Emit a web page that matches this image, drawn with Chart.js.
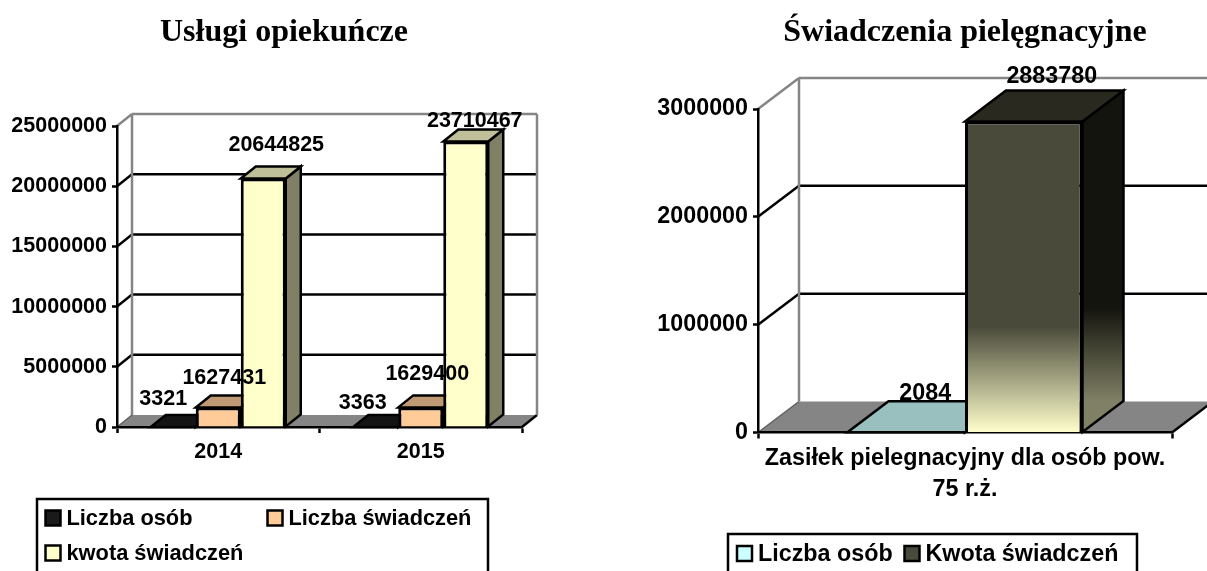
<!DOCTYPE html>
<html><head><meta charset="utf-8">
<style>html,body{margin:0;padding:0;background:#fff;width:1207px;height:571px;overflow:hidden}
canvas{position:absolute;top:0}</style>
<script src="https://cdn.jsdelivr.net/npm/chart.js@4"></script>
</head><body>
<canvas id="a" width="568" height="571" style="left:0"></canvas>
<canvas id="b" width="639" height="571" style="left:568px"></canvas>
<script>
const years = ['2014', '2015'];
const liczbaOsob = [3321, 3363];
const liczbaSwiadczen = [1627431, 1629400];
const kwotaSwiadczen = [20644825, 23710467];
const zasilekCategory = [['Zasiłek pielegnacyjny dla osób pow.', '75 r.ż.']];
const osobyZasilek = [2084];
const kwotaZasilek = [2883780];

const SANS = '"Liberation Sans", Arial, sans-serif';
const SERIF = '"Liberation Serif", "Times New Roman", serif';
const GREY = '#858585';

function poly(ctx, pts, fill, stroke, lw) {
  ctx.beginPath();
  pts.forEach((p, i) => i ? ctx.lineTo(p[0], p[1]) : ctx.moveTo(p[0], p[1]));
  ctx.closePath();
  if (fill) { ctx.fillStyle = fill; ctx.fill(); }
  if (stroke) { ctx.strokeStyle = stroke; ctx.lineWidth = lw || 2; ctx.lineJoin = 'miter'; ctx.stroke(); }
}
function seg(ctx, x1, y1, x2, y2, c, lw) {
  ctx.beginPath(); ctx.moveTo(x1, y1); ctx.lineTo(x2, y2);
  ctx.strokeStyle = c; ctx.lineWidth = lw; ctx.stroke();
}

const box3d = {
  id: 'box3d',
  afterLayout(chart, _, o) {
    if (o.titleShift) { chart.titleBlock.left += o.titleShift; chart.titleBlock.right += o.titleShift; }
  },
  beforeDraw(chart, _, o) {
    const c = chart.ctx, a = chart.chartArea, y = chart.scales.y, dx = o.dx, dy = o.dy;
    const r = a.right, l = a.left, b = y.getPixelForValue(0), t = y.getPixelForValue(y.max);
    c.save();
    poly(c, [[l, b], [r, b], [r + dx, b - dy], [l + dx, b - dy]], GREY);
    seg(c, l, b, l + dx, b - dy, '#606060', 1.5);
    seg(c, r, b, r + dx, b - dy, '#000', 2.5);
    y.ticks.forEach(tk => {
      if (tk.value === 0) return;
      const py = y.getPixelForValue(tk.value), top = tk.value === y.max;
      const col = top ? GREY : '#000';
      seg(c, l, py, l + dx, py - dy, col, 2.5);
      seg(c, l + dx, py - dy, r + dx, py - dy, col, 2.5);
    });
    seg(c, l + dx, t - dy, l + dx, b - dy, GREY, 2.5);
    seg(c, r + dx, t - dy, r + dx, b - dy, GREY, 2.5);
    c.restore();
  },
  beforeDatasetsDraw(chart, _, o) {
    const c = chart.ctx, dx = o.dx, dy = o.dy;
    c.save();
    chart.data.labels.forEach((_, i) => {
      chart.data.datasets.forEach((ds, d) => {
        const bar = chart.getDatasetMeta(d).data[i];
        const x0 = bar.x - bar.width / 2, x1 = bar.x + bar.width / 2;
        let side = ds.sideColor;
        if (ds.sideStops) {
          side = c.createLinearGradient(0, bar.y - dy, 0, bar.base - dy);
          ds.sideStops.forEach(s => side.addColorStop(s[0], s[1]));
        }
        poly(c, [[x1, bar.y], [x1 + dx, bar.y - dy], [x1 + dx, bar.base - dy], [x1, bar.base]], side, '#000', 2.5);
        poly(c, [[x0, bar.y], [x1, bar.y], [x1 + dx, bar.y - dy], [x0 + dx, bar.y - dy]], ds.topColor, '#000', 2.5);
      });
    });
    c.restore();
  },
  afterDatasetsDraw(chart, _, o) {
    const c = chart.ctx;
    c.save();
    c.font = 'bold ' + o.fontPx + 'px ' + SANS;
    c.fillStyle = '#000'; c.textAlign = 'center'; c.textBaseline = 'middle';
    chart.data.datasets.forEach((ds, d) => {
      chart.getDatasetMeta(d).data.forEach((bar, i) => {
        const off = o.labelOffsets[d][i];
        c.fillText(String(ds.data[i]), bar.x + off[0], bar.y + off[1]);
      });
    });
    const L = o.legend;
    c.font = 'bold ' + L.fontPx + 'px ' + SANS;
    c.textAlign = 'left';
    c.lineWidth = 2.5; c.strokeStyle = '#000';
    c.beginPath();
    c.moveTo(L.left, chart.height + 5); c.lineTo(L.left, L.top); c.lineTo(L.right, L.top); c.lineTo(L.right, chart.height + 5);
    c.stroke();
    chart.data.datasets.forEach((ds, d) => {
      const it = L.items[d];
      c.fillStyle = ds.legendColor;
      c.fillRect(it[0], it[1] - 7.5, 15, 15);
      c.strokeRect(it[0], it[1] - 7.5, 15, 15);
      c.fillStyle = '#000';
      c.fillText(ds.label, it[0] + 21, it[1] + 1);
    });
    c.restore();
  }
};

function options(cfg) {
  return {
    responsive: false, animation: false, events: [],
    layout: { padding: { left: 0, right: cfg.right, top: 0, bottom: 0 } },
    plugins: {
      legend: { display: false }, tooltip: { enabled: false },
      title: {
        display: true, text: cfg.title, color: '#000', fullSize: cfg.fullSize,
        font: { family: SERIF, size: 32, weight: 'bold', lineHeight: 1.2 },
        padding: { top: 14, bottom: cfg.top - 14 - 38.4 }
      },
      box3d: cfg.box
    },
    scales: {
      x: {
        afterFit(s) { s.height = 571 - cfg.floor; },
        offset: true,
        grid: { offset: true, drawOnChartArea: false, tickColor: '#000', tickWidth: 2.5, tickLength: 6 },
        border: { color: '#000', width: 2.5 },
        ticks: { color: '#000', padding: cfg.xPad, maxRotation: 0, autoSkip: false,
          font: { family: SANS, size: cfg.box.fontPx, weight: 'bold', lineHeight: cfg.xLine } }
      },
      y: {
        afterFit(s) { s.width = cfg.yw; },
        min: 0, max: cfg.max,
        grid: { drawOnChartArea: false, tickColor: '#000', tickWidth: 2.5, tickLength: 5 },
        border: { color: '#000', width: 2.5 },
        ticks: { stepSize: cfg.step, color: '#000', padding: 5,
          font: { family: SANS, size: cfg.box.fontPx, weight: 'bold' }, callback: v => String(v) }
      }
    }
  };
}

new Chart(document.getElementById('a'), {
  type: 'bar',
  plugins: [box3d],
  data: {
    labels: years,
    datasets: [
      { label: 'Liczba osób', data: liczbaOsob, backgroundColor: '#1a1a1a', legendColor: '#1a1a1a', topColor: '#141414', sideColor: '#0d0d0d', borderColor: '#000', borderWidth: 3, categoryPercentage: 0.6667, barPercentage: 1 },
      { label: 'Liczba świadczeń', data: liczbaSwiadczen, backgroundColor: '#ffcc99', legendColor: '#ffcc99', topColor: '#bf9973', sideColor: '#80664d', borderColor: '#000', borderWidth: 3, categoryPercentage: 0.6667, barPercentage: 1 },
      { label: 'kwota świadczeń', data: kwotaSwiadczen, backgroundColor: '#ffffcc', legendColor: '#ffffcc', topColor: '#bfbf99', sideColor: '#808066', borderColor: '#000', borderWidth: 3, categoryPercentage: 0.6667, barPercentage: 1 }
    ]
  },
  options: options({
    title: 'Usługi opiekuńcze', fullSize: true, right: 46, top: 126, floor: 427, yw: 117,
    max: 25000000, step: 5000000, xPad: 6, xLine: 1.2,
    box: {
      dx: 15, dy: 12, fontPx: 21.5, titleShift: 23,
      labelOffsets: [[[-10, -28], [-13, -24]], [[6, -29], [6.5, -33]], [[13, -33], [9, -20]]],
      legend: { fontPx: 21.8, left: 37, right: 488, top: 499, items: [[45.5, 518], [267.5, 518], [45.5, 553]] }
    }
  })
});

const darkFront = '#4a4a3a';
new Chart(document.getElementById('b'), {
  type: 'bar',
  plugins: [box3d],
  data: {
    labels: zasilekCategory,
    datasets: [
      { label: 'Liczba osób', data: osobyZasilek, backgroundColor: '#99bfbf', legendColor: '#ccffff', topColor: '#99bfbf', sideColor: '#668080', borderColor: '#000', borderWidth: 3, categoryPercentage: 0.5676, barPercentage: 1 },
      { label: 'Kwota świadczeń', data: kwotaZasilek, legendColor: darkFront, topColor: '#29291f',
        sideStops: [[0, '#14140e'], [0.7, '#14140e'], [1, '#808066']],
        backgroundColor(ctx) {
          const area = ctx.chart.chartArea;
          if (!area) return darkFront;
          const y = ctx.chart.scales.y;
          const g = ctx.chart.ctx.createLinearGradient(0, y.getPixelForValue(kwotaZasilek[0]), 0, y.getPixelForValue(0));
          g.addColorStop(0, darkFront); g.addColorStop(0.66, darkFront); g.addColorStop(1, '#ffffcc');
          return g;
        },
        borderColor: '#000', borderWidth: 3, categoryPercentage: 0.5676, barPercentage: 1 }
    ]
  },
  options: options({
    title: 'Świadczenia pielęgnacyjne', fullSize: false, right: 35, top: 109, floor: 432.5, yw: 190,
    max: 3000000, step: 1000000, xPad: 5, xLine: 1.33,
    box: {
      dx: 41, dy: 31, fontPx: 23.3,
      labelOffsets: [[[19, -39]], [[28, -45]]],
      legend: { fontPx: 23.3, left: 160, right: 569, top: 534, items: [[169, 553.5], [336.5, 553.5]] }
    }
  })
});
</script>
</body></html>
